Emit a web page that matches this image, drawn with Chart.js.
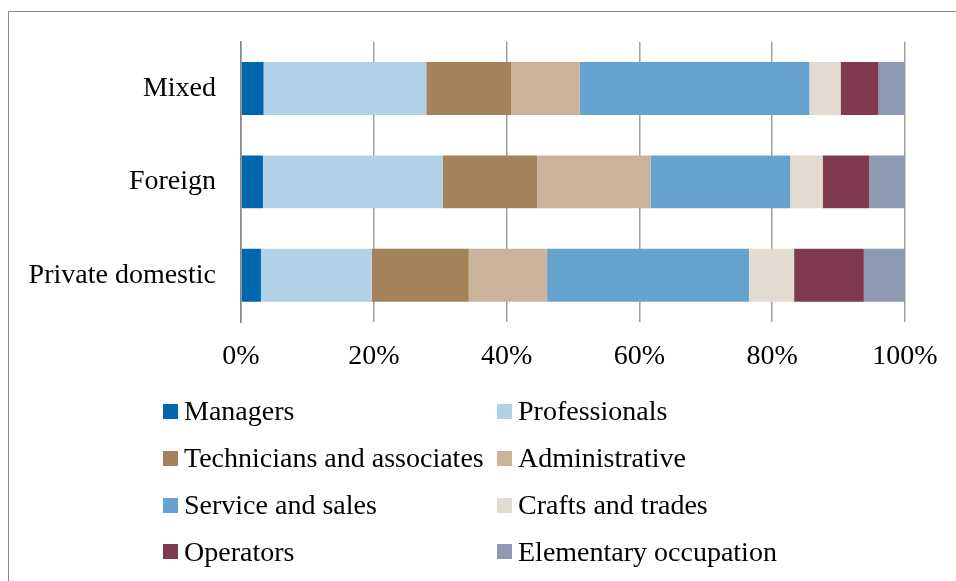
<!DOCTYPE html>
<html>
<head>
<meta charset="utf-8">
<script src="https://cdn.jsdelivr.net/npm/chart.js@4.4.1/dist/chart.umd.min.js"></script>
<style>
  html, body { margin: 0; padding: 0; background: #ffffff; }
  body { width: 956px; height: 581px; position: relative; overflow: hidden; font-family: "Liberation Serif", serif; }
  #frame { position: absolute; left: 8px; top: 11px; width: 1200px; height: 1200px;
           border-left: 1.5px solid #8a8a8a; border-top: 1.5px solid #8a8a8a; }
  #wrap { position: absolute; left: 0; top: 0; width: 956px; height: 581px; }
  #legend { position: absolute; left: 0; top: 0; width: 956px; height: 581px; pointer-events: none; }
  .li { position: absolute; height: 28px; white-space: nowrap; }
  .sw { position: absolute; width: 15px; height: 15px; }
  .lt { position: absolute; font-family: "Liberation Serif", serif; font-size: 28px; line-height: 28px; color: #000; }
</style>
</head>
<body>
<div id="frame"></div>
<div id="wrap"><canvas id="c" width="956" height="581"></canvas></div>
<div id="legend"></div>
<script>
// ---- data ----
const categories = ['Mixed', 'Foreign', 'Private domestic'];
const seriesNames = ['Managers', 'Professionals', 'Technicians and associates', 'Administrative',
                     'Service and sales', 'Crafts and trades', 'Operators', 'Elementary occupation'];
const managers       = [3.4, 3.3, 3.0];
const professionals  = [24.5, 27.1, 16.7];
const technicians    = [12.8, 14.2, 14.6];
const administrative = [10.3, 17.1, 11.8];
const serviceSales   = [34.6, 21.0, 30.4];
const craftsTrades   = [4.7, 4.9, 6.8];
const operators      = [5.7, 7.0, 10.5];
const elementary     = [4.0, 5.4, 6.2];
const xTickValues = [0, 20, 40, 60, 80, 100];

const seriesValues = [managers, professionals, technicians, administrative,
                      serviceSales, craftsTrades, operators, elementary];
const colors = ['#0066ad', '#b3d1e6', '#a5825a', '#cab39a',
                '#65a3ce', '#e3dad0', '#803a50', '#8d9ab1'];

const FONT = { family: '"Liberation Serif", serif', size: 28 };

const chart = new Chart(document.getElementById('c'), {
  type: 'bar',
  data: {
    labels: categories,
    datasets: seriesNames.map((name, i) => ({
      label: name,
      data: seriesValues[i],
      backgroundColor: colors[i],
      borderWidth: 0,
      categoryPercentage: 1.0,
      barPercentage: 0.566
    }))
  },
  options: {
    indexAxis: 'y',
    responsive: false,
    animation: false,
    events: [],
    layout: { padding: { left: 0, right: 51, top: 41, bottom: 199 } },
    plugins: { legend: { display: false }, tooltip: { enabled: false } },
    scales: {
      x: {
        stacked: true,
        min: 0, max: 100,
        afterBuildTicks: (s) => { s.ticks = xTickValues.map(v => ({ value: v })); },
        afterFit: (s) => { s.height = 60; },
        ticks: { font: FONT, color: '#000', padding: 18, maxRotation: 0, autoSkip: false,
                 callback: (v) => v + '%' },
        grid: { color: '#a0a0a0', lineWidth: 1.5, drawTicks: false },
        border: { display: false }
      },
      y: {
        stacked: true,
        afterFit: (s) => { s.width = 241; },
        ticks: { font: FONT, color: '#000', padding: 25 },
        grid: { display: false, drawTicks: false },
        border: { display: true, color: '#868686', width: 1.5 }
      }
    }
  }
});

// ---- HTML legend built from chart datasets ----
const legend = document.getElementById('legend');
const colX = [163, 497];
const rowTop0 = 404, rowStep = 46.8;
chart.data.datasets.forEach((ds, i) => {
  const col = i % 2, row = Math.floor(i / 2);
  const sqTop = rowTop0 + row * rowStep;
  const sw = document.createElement('div');
  sw.className = 'sw';
  sw.style.left = colX[col] + 'px';
  sw.style.top = sqTop + 'px';
  sw.style.background = ds.backgroundColor;
  legend.appendChild(sw);
  const t = document.createElement('div');
  t.className = 'lt';
  t.style.left = (colX[col] + 21) + 'px';
  t.style.top = (sqTop - 6.7) + 'px';
  t.textContent = ds.label;
  legend.appendChild(t);
});
</script>
</body>
</html>
